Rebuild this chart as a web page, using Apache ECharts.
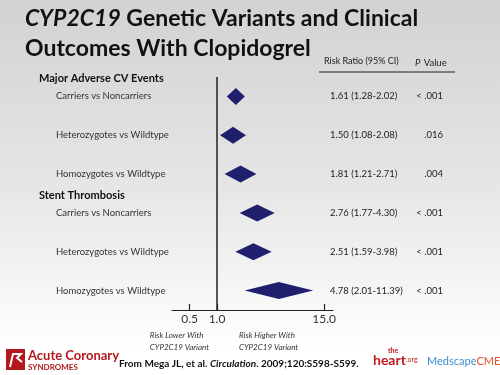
<!DOCTYPE html>
<html>
<head>
<meta charset="utf-8">
<script src="https://cdn.jsdelivr.net/npm/echarts@6/dist/echarts.min.js"></script>
<style>
  html, body { margin: 0; padding: 0; }
  #chart { width: 500px; height: 375px; }
</style>
</head>
<body>
<div id="chart"></div>
<script>
  // forest plot data
  const groups = ['Major Adverse CV Events', 'Stent Thrombosis'];
  const rows = [
    'Carriers vs Noncarriers', 'Heterozygotes vs Wildtype', 'Homozygotes vs Wildtype',
    'Carriers vs Noncarriers', 'Heterozygotes vs Wildtype', 'Homozygotes vs Wildtype'
  ];
  const riskRatio = [1.61, 1.50, 1.81, 2.76, 2.51, 4.78];
  const ciLower = [1.28, 1.08, 1.21, 1.77, 1.59, 2.01];
  const ciUpper = [2.02, 2.08, 2.71, 4.30, 3.98, 11.39];
  const pValues = ['< .001', '.016', '.004', '< .001', '< .001', '< .001'];
  const xTicks = [0.5, 1.0, 15.0];

  const ratioText = riskRatio.map(function (v, i) {
    return v.toFixed(2) + ' (' + ciLower[i].toFixed(2) + '-' + ciUpper[i].toFixed(2) + ')';
  });
  const rowKeys = rows.map(function (r, i) { return 'r' + i; });

  const font = 'Lato, "Open Sans", sans-serif';
  const myChart = echarts.init(document.getElementById('chart'));

  const option = {
    backgroundColor: {
      type: 'linear', x: 0, y: 0, x2: 0, y2: 1,
      colorStops: [
        { offset: 0, color: '#d2d2d2' },
        { offset: 0.5, color: '#e6e6e6' },
        { offset: 0.85, color: '#fafafa' },
        { offset: 0.93, color: '#ffffff' },
        { offset: 1, color: '#ffffff' }
      ]
    },
    textStyle: { fontFamily: font },
    title: {
      left: 20,
      top: -1,
      text: '{i|CYP2C19} Genetic Variants and Clinical\nOutcomes With Clopidogrel',
      textStyle: {
        fontFamily: font,
        fontSize: 23,
        fontWeight: 'bold',
        color: '#111',
        lineHeight: 30,
        rich: {
          i: { fontFamily: font, fontSize: 23, fontWeight: 'bold', fontStyle: 'italic', color: '#111', lineHeight: 30 }
        }
      }
    },
    grid: { left: 172, right: 167, top: 77, bottom: 65 },
    xAxis: {
      type: 'log',
      logBase: 10,
      min: 0.32,
      max: 18.8,
      splitLine: { show: false },
      axisLine: { show: true, onZero: false, lineStyle: { color: '#222', width: 1.2 } },
      axisTick: { show: true, inside: true, length: 6, customValues: xTicks, lineStyle: { color: '#222', width: 1.2 } },
      axisLabel: {
        customValues: xTicks,
        color: '#333',
        fontSize: 12,
        margin: 3,
        formatter: function (v) { return Number(v).toFixed(1); }
      }
    },
    yAxis: [
      {
        type: 'category',
        data: rowKeys,
        inverse: true,
        axisLine: { show: false },
        axisTick: { show: false },
        axisLabel: {
          align: 'left',
          margin: 116,
          fontSize: 9.5,
          color: '#333',
          formatter: function (v) { return rows[rowKeys.indexOf(v)]; }
        }
      },
      {
        type: 'category',
        data: rowKeys,
        inverse: true,
        position: 'right',
        axisLine: { show: false },
        axisTick: { show: false },
        axisLabel: {
          align: 'left',
          margin: -3,
          fontSize: 9.5,
          color: '#222',
          formatter: function (v) { return ratioText[rowKeys.indexOf(v)]; }
        }
      },
      {
        type: 'category',
        data: rowKeys,
        inverse: true,
        position: 'right',
        offset: 110,
        axisLine: { show: false },
        axisTick: { show: false },
        axisLabel: {
          align: 'right',
          margin: 0,
          fontSize: 9.5,
          color: '#222',
          formatter: function (v) { return pValues[rowKeys.indexOf(v)]; }
        }
      }
    ],
    series: [
      {
        type: 'custom',
        coordinateSystem: 'cartesian2d',
        xAxisIndex: 0,
        yAxisIndex: 0,
        dimensions: ['rr', 'lo', 'hi', 'row'],
        encode: { x: 0, y: 3 },
        data: riskRatio.map(function (v, i) { return [v, ciLower[i], ciUpper[i], i]; }),
        renderItem: function (params, api) {
          const row = api.value(3);
          const mid = api.coord([api.value(0), row]);
          const lo = api.coord([api.value(1), row]);
          const hi = api.coord([api.value(2), row]);
          const h = 8.5;
          return {
            type: 'polygon',
            shape: { points: [[lo[0], mid[1]], [mid[0], mid[1] - h], [hi[0], mid[1]], [mid[0], mid[1] + h]] },
            style: { fill: '#1f1f6e' }
          };
        }
      },
      {
        type: 'line',
        xAxisIndex: 0,
        yAxisIndex: 0,
        data: [],
        markLine: {
          silent: true,
          symbol: 'none',
          label: { show: false },
          lineStyle: { color: '#222', width: 1.5, type: 'solid' },
          data: [{ xAxis: 1 }]
        }
      }
    ],
    graphic: [
      { type: 'text', left: 39, top: 73, style: { text: groups[0], font: 'bold 11px ' + font, fill: '#111' } },
      { type: 'text', left: 39, top: 190, style: { text: groups[1], font: 'bold 11px ' + font, fill: '#111' } },
      { type: 'text', left: 324, top: 57, style: { text: 'Risk Ratio (95% CI)', font: '9px ' + font, fill: '#222' } },
      { type: 'text', left: 415, top: 57, style: { rich: { p: { fontStyle: 'italic', fontSize: 9.5, fontFamily: font, fill: '#222' }, n: { fontSize: 9.5, fontFamily: font, fill: '#222' } }, text: '{p|P} {n|Value}' } },
      { type: 'line', shape: { x1: 319, y1: 72, x2: 455, y2: 72 }, style: { stroke: '#222', lineWidth: 1.2 } },
      { type: 'text', right: 291, top: 329, style: { text: 'Risk Lower With\nCYP2C19 Variant', font: 'italic 8px ' + font, fill: '#333', align: 'right', lineHeight: 12 } },
      { type: 'text', left: 239, top: 329, style: { text: 'Risk Higher With\nCYP2C19 Variant', font: 'italic 8px ' + font, fill: '#333', lineHeight: 12 } },
      // footer logos and source
      { type: 'rect', shape: { x: 6, y: 349, width: 19, height: 21 }, style: { fill: '#b3191c' } },
      { type: 'polyline', shape: { points: [[10, 367], [13, 354], [21, 354], [17, 358], [22, 362]] }, style: { stroke: '#fff', lineWidth: 2, fill: null } },
      { type: 'text', left: 28, top: 349, style: { text: 'Acute Coronary', font: 'bold 13px ' + font, fill: '#b3191c' } },
      { type: 'text', left: 28, top: 363, style: { text: 'SYNDROMES', font: 'bold 8px ' + font, fill: '#b3191c' } },
      { type: 'text', left: 119, top: 359, style: { rich: { n: { fontSize: 10, fontWeight: 'bold', fontFamily: font, fill: '#111' }, i: { fontSize: 10, fontWeight: 'bold', fontStyle: 'italic', fontFamily: font, fill: '#111' } }, text: '{n|From Mega JL, et al. }{i|Circulation}{n|. 2009;120:S598-S599.}' } },
      { type: 'text', left: 388, top: 347, style: { text: 'the', font: 'bold 7px ' + font, fill: '#c0181c' } },
      { type: 'text', left: 373, top: 353, style: { rich: { h: { fontSize: 14, fontWeight: 'bold', fontFamily: font, fill: '#c0181c' }, o: { fontSize: 7, fontFamily: font, fill: '#c0181c' } }, text: '{h|heart}{o|.org}' } },
      { type: 'text', left: 427, top: 356, style: { rich: { m: { fontSize: 11, fontFamily: font, fill: '#3a8fd0' }, c: { fontSize: 11, fontFamily: font, fill: '#e0502a' } }, text: '{m|Medscape}{c|CME}' } }
    ]
  };
  myChart.setOption(option);
</script>
</body>
</html>
